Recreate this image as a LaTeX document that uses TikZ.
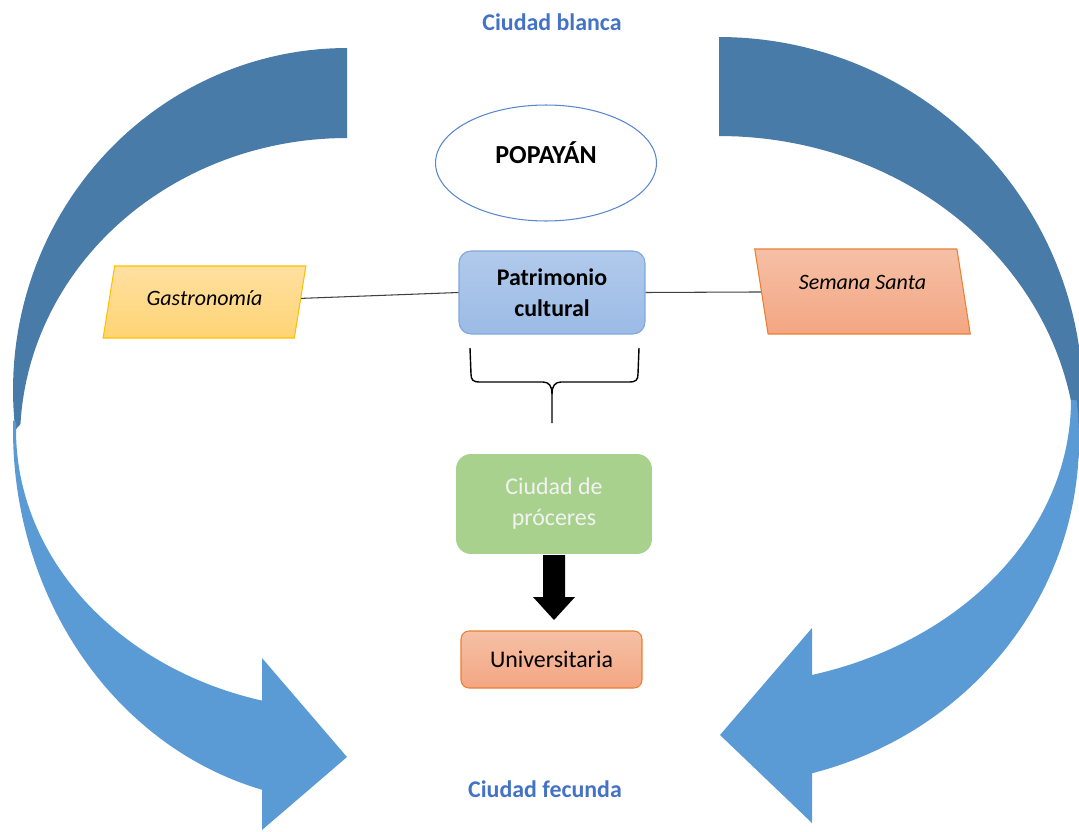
\documentclass[tikz,border=0pt]{standalone}
\usepackage{fontspec}
\setmainfont{Carlito}
\usetikzlibrary{shapes.geometric}
\definecolor{backblue}{HTML}{497BA9}
\definecolor{frontblue}{HTML}{5B9BD5}
\definecolor{titleblue}{HTML}{4472C4}
\definecolor{ovalblue}{HTML}{5B87CF}
\definecolor{patritop}{HTML}{B1CAEC}
\definecolor{patribot}{HTML}{9BBBE5}
\definecolor{patriline}{HTML}{7FA7DD}
\definecolor{gastrotop}{HTML}{FFE0A1}
\definecolor{gastrobot}{HTML}{FFD474}
\definecolor{gastroline}{HTML}{FFC000}
\definecolor{salmontop}{HTML}{F5C0A6}
\definecolor{salmonbot}{HTML}{F4A682}
\definecolor{salmonline}{HTML}{ED7D31}
\definecolor{procgreen}{HTML}{A9D18E}
\begin{document}
\begin{tikzpicture}[x=0.02cm,y=-0.02cm,
    basefont/.style={font=\fontsize{13.6}{17.6}\selectfont},
    title/.style={text=titleblue,font=\fontsize{13.6}{17.6}\selectfont\bfseries},
    roundbox/.style={rectangle,rounded corners=0.24cm,align=center,line width=0.6pt},
    slantbox/.style={trapezium,trapezium stretches=true,line width=0.6pt,
        font=\fontsize{12.5}{16}\selectfont\itshape},
    link/.style={draw=black!75,line width=0.6pt}]
\useasboundingbox (0,0) rectangle (1079,832);
% curved arrow on the left, back then front
\fill[backblue] plot[domain=173.3:270,samples=60] ({347+334*cos(\x)},{390+342*sin(\x)})
  -- plot[domain=270:183,samples=60] ({347+327*cos(\x)},{440+302*sin(\x)}) -- cycle;
\fill[frontblue] plot[domain=181.5:104.7,samples=60] ({347+334*cos(\x)},{430+372*sin(\x)})
  -- (262,830) -- (347,757) -- (262,658)
  -- plot[domain=104.88:181.5,samples=60] ({347+331*cos(\x)},{430+280*sin(\x)}) -- cycle;
% curved arrow on the right, back then front
\fill[backblue] plot[domain=270:370,samples=60] ({719+364*cos(\x)},{400+363*sin(\x)})
  -- plot[domain=360:270,samples=60] ({719+358*cos(\x)},{460+324*sin(\x)}) -- cycle;
\fill[frontblue] plot[domain=-6.6:75.03,samples=60] ({719+360*cos(\x)},{440+345*sin(\x)})
  -- (812,823) -- (720,735) -- (812,628)
  -- plot[domain=74.67:0,samples=60] ({719+352*cos(\x)},{400+285.1*sin(\x)}) -- cycle;
% titles
\node[title] (blanca) at (552,22) {Ciudad blanca};
\node[title] (fecunda) at (545,789) {Ciudad fecunda};
% nodes
\node[ellipse,draw=ovalblue,fill=white,line width=0.6pt,minimum width=4.42cm,minimum height=2.32cm,
  text height=0.3cm,text depth=0.3cm,font=\fontsize{14.8}{18}\selectfont\bfseries] (popayan) at (546,163) {POPAY\'AN};
\node[roundbox,draw=patriline,top color=patritop,bottom color=patribot,minimum width=3.72cm,
  minimum height=1.66cm,font=\fontsize{13.6}{17.6}\selectfont\bfseries] (patri) at (552,292.5) {Patrimonio\\cultural};
\node[slantbox,trapezium left angle=76.7,trapezium right angle=103.3,draw=gastroline,text depth=0.16cm,
  top color=gastrotop,bottom color=gastrobot,minimum width=4.06cm,minimum height=1.44cm] (gastro) at (204.5,302) {Gastronom\'ia};
\node[slantbox,trapezium left angle=102.6,trapezium right angle=77.4,draw=salmonline,text depth=0.36cm,
  top color=salmontop,bottom color=salmonbot,minimum width=4.34cm,minimum height=1.70cm] (semana) at (862.5,291.5) {Semana Santa};
\node[roundbox,rounded corners=0.3cm,fill=procgreen,text=white!95!black,minimum width=3.92cm,
  minimum height=2cm,basefont] (proc) at (554,504) {Ciudad de\\pr\'oceres};
\node[roundbox,rounded corners=0.16cm,draw=salmonline,top color=salmontop,bottom color=salmonbot,
  minimum width=3.62cm,minimum height=1.14cm,basefont] (univ) at (551.5,659.5) {Universitaria};
% connectors
\draw[link] (gastro) -- (patri.west);
\draw[link] (patri.east) -- (semana);
% brace
\draw[line width=0.8pt] (470,348) -- (471,374) .. controls (471,380) and (473,382) .. (480,382)
  -- (543,382) .. controls (549,382) and (552,386) .. (552,394) -- (552,423);
\draw[line width=0.8pt] (639,348) -- (638,374) .. controls (638,380) and (636,382) .. (629,382)
  -- (561,382) .. controls (555,382) and (552,386) .. (552,394);
% block arrow
\fill[black] (543,555) -- (565,555) -- (565,597) -- (575,597) -- (554,620) -- (533,597) -- (543,597) -- cycle;
\end{tikzpicture}
\end{document}
